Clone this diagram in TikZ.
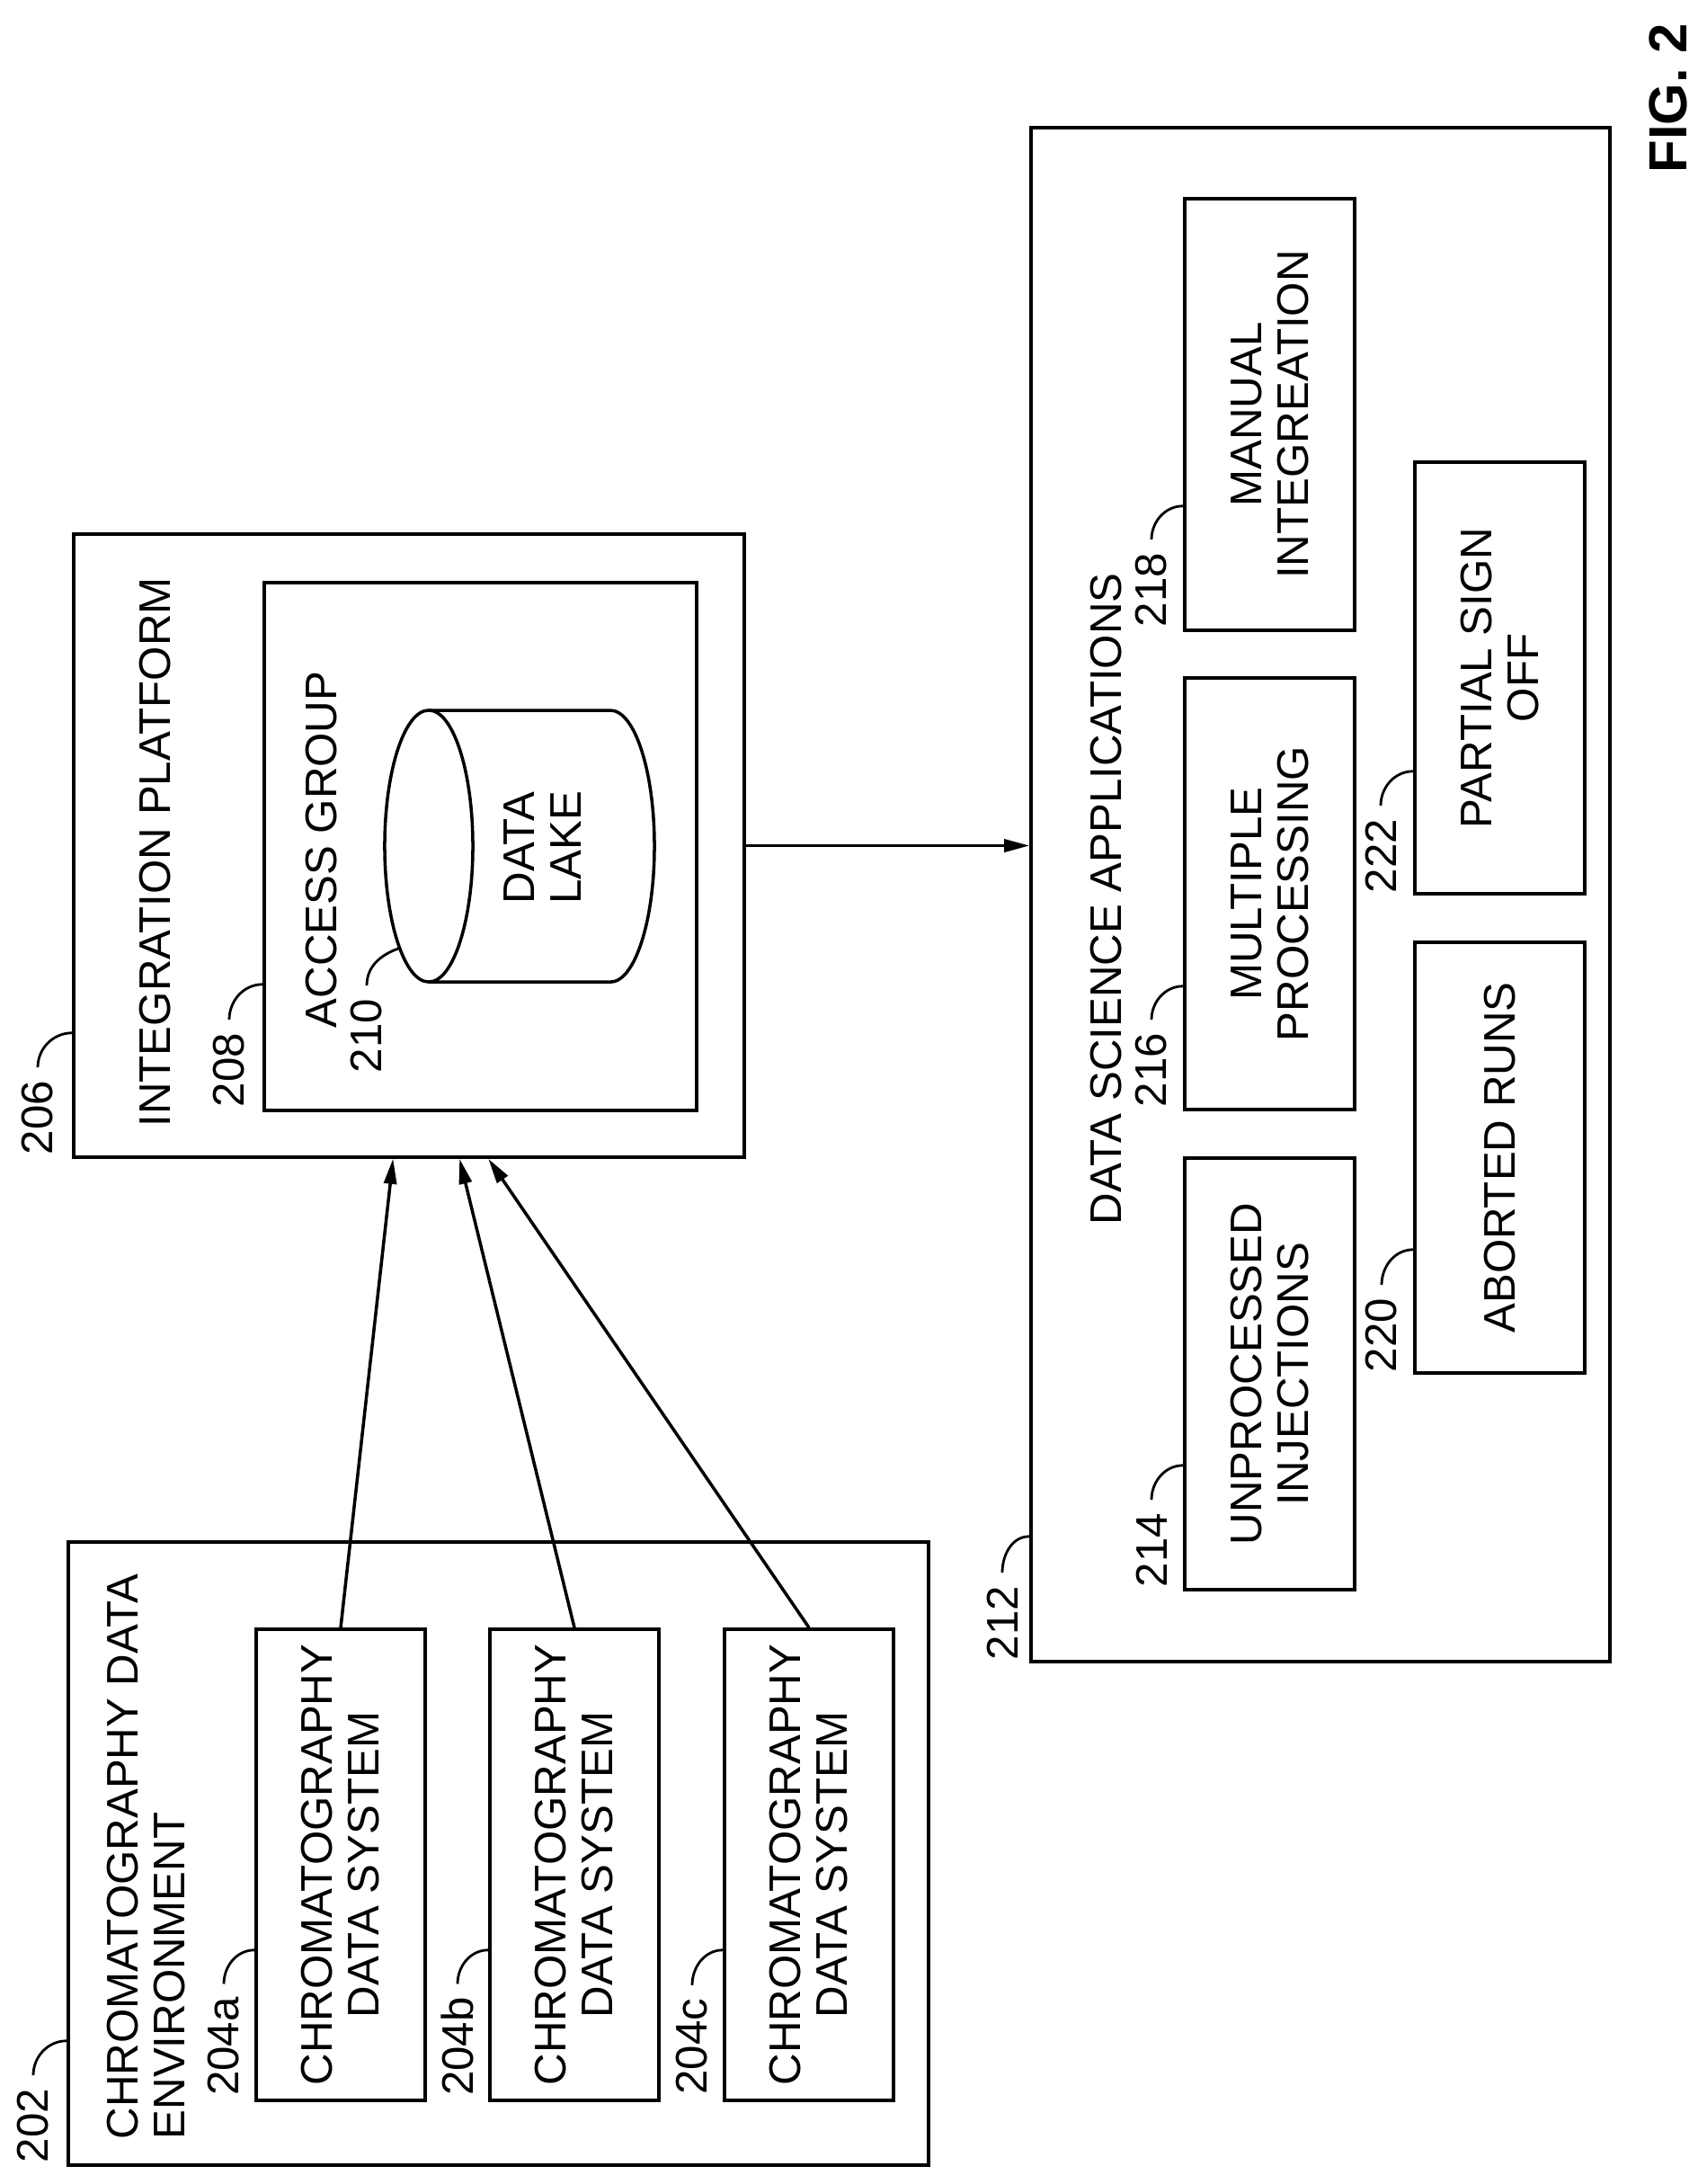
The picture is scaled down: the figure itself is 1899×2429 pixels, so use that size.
\documentclass[tikz,border=0pt]{standalone}
\usepackage{fontspec}
\setmainfont{Liberation Sans}
\usetikzlibrary{fit,calc,arrows.meta}
\begin{document}
\begin{tikzpicture}[x=0.01cm,y=-0.01cm,
  every node/.style={font=\fontsize{14}{14.8}\selectfont},
  box/.style={draw,line width=1pt,inner sep=0pt},
  ttl/.style={rotate=90,anchor=north west,inner sep=0pt,align=left},
  txt/.style={rotate=90,align=center,inner sep=0pt},
  lbl/.style={rotate=90,inner sep=0pt},
  ld/.style={line width=0.8pt},
  arr/.style={line width=1pt,-{Triangle[length=0.28cm,width=0.14cm]}}]
\useasboundingbox (0,0) rectangle (1899,2429);
% boxes
\node[box,fit={(76,1715)(1033,2408)}] (b202) {};
\node[box,fit={(285,1812)(473,2336)}] (b204a) {};
\node[box,fit={(545,1812)(733,2336)}] (b204b) {};
\node[box,fit={(806,1812)(994,2336)}] (b204c) {};
\node[box,fit={(82,594)(828,1287)}] (b206) {};
\node[box,fit={(294,648)(775,1235)}] (b208) {};
\node[box,fit={(1147,142)(1791,1848)}] (b212) {};
\node[box,fit={(1318,1288)(1507,1768)}] (b214) {};
\node[box,fit={(1318,754)(1507,1234)}] (b216) {};
\node[box,fit={(1318,221)(1507,701)}] (b218) {};
\node[box,fit={(1574,1048)(1763,1527)}] (b220) {};
\node[box,fit={(1574,514)(1763,994)}] (b222) {};
% cylinder
\draw[line width=1pt] (477,941) ellipse[x radius=0.49cm,y radius=1.51cm];
\draw[line width=1pt] (477,790) -- (679,790) arc[start angle=90,end angle=-90,x radius=0.49cm,y radius=1.51cm] -- (477,1092);
\node[txt] (t210) at (604,943) {DATA\\LAKE};
% titles
\node[ttl] (t202) at (118,2380) {CHROMATOGRAPHY DATA\\ENVIRONMENT};
\node[ttl] (t206) at (154,1254) {INTEGRATION PLATFORM};
\node[ttl] (t208) at (339,1144) {ACCESS GROUP};
\node[ttl] (t212) at (1212,1363) {DATA SCIENCE APPLICATIONS};
\node[ttl,font=\fontsize{17}{20}\selectfont\bfseries] (fig) at (1834,193) {FIG. 2};
% box texts
\node[txt] (t204a) at (b204a.center) {CHROMATOGRAPHY\\DATA SYSTEM};
\node[txt] (t204b) at (b204b.center) {CHROMATOGRAPHY\\DATA SYSTEM};
\node[txt] (t204c) at (b204c.center) {CHROMATOGRAPHY\\DATA SYSTEM};
\node[txt] (t214) at (b214.center) {UNPROCESSED\\INJECTIONS};
\node[txt] (t216) at (b216.center) {MULTIPLE\\PROCESSING};
\node[txt] (t218) at (b218.center) {MANUAL\\INTEGREATION};
\node[txt] (t220) at (b220.center) {ABORTED RUNS};
\node[txt] (t222) at (b222.center) {PARTIAL SIGN\\OFF};
% labels
\node[lbl] (l202) at (37,2364) {202};
\node[lbl] (l204a) at (249,2276) {204a};
\node[lbl] (l204b) at (509,2276) {204b};
\node[lbl] (l204c) at (770,2276) {204c};
\node[lbl] (l206) at (42,1243) {206};
\node[lbl] (l208) at (255,1190) {208};
\node[lbl] (l210) at (408,1152) {210};
\node[lbl] (l212) at (1115,1805) {212};
\node[lbl] (l214) at (1281,1724) {214};
\node[lbl] (l216) at (1281,1190) {216};
\node[lbl] (l218) at (1281,656) {218};
\node[lbl] (l220) at (1537,1485) {220};
\node[lbl] (l222) at (1536,952) {222};
% leaders
\foreach \l/\b/\o in {202/b202/140,204a/b204a/169,204b/b204b/169,204c/b204c/169,206/b206/140,208/b208/142,212/b212/141,214/b214/140,216/b216/139,218/b218/140,220/b220/139,222/b222/138}{
  \draw[ld] ([yshift=4pt]l\l.east) to[out=90,in=180] ($(\b.south west)+(0,-\o)$);
}
\coordinate (c210) at (443,1055);
\draw[ld] ([yshift=4pt]l210.east) to[out=90,in=200] (c210);
% arrows
\draw[arr] (b204a.north) -- ($(b206.south west)+(357,0)$);
\draw[arr] (b204b.north) -- ($(b206.south west)+(431,0)$);
\draw[arr] (b204c.north) -- ($(b206.south west)+(463,0)$);
\draw[arr] (b206.east) -- (b212.west |- b206.east);
\end{tikzpicture}
\end{document}
